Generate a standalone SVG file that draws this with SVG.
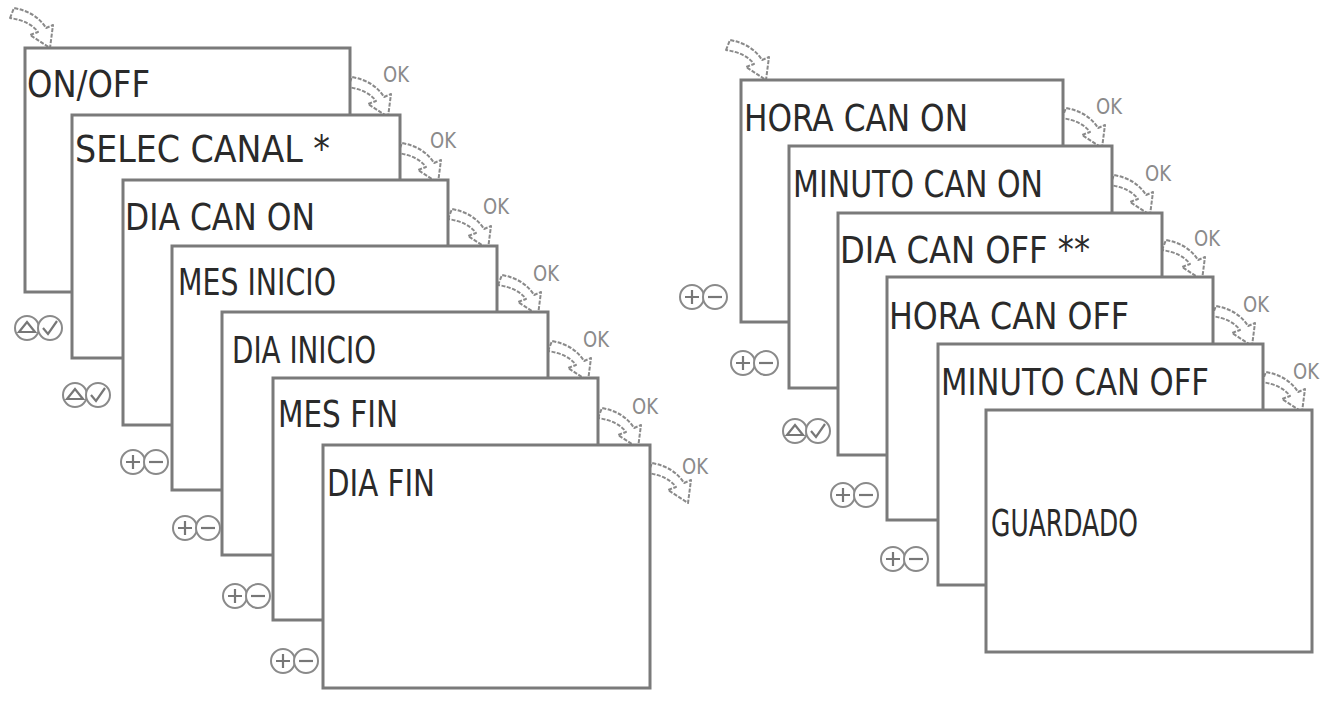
<svg xmlns="http://www.w3.org/2000/svg" width="1328" height="701" viewBox="0 0 1328 701">
<style>
.box{fill:#fff;stroke:#7a7a7a;stroke-width:3}
.t{font-family:"DejaVu Sans Condensed","DejaVu Sans",sans-serif;font-size:38px;fill:#2a2a2a;font-weight:200}
.ok{font-family:"DejaVu Sans Condensed","DejaVu Sans",sans-serif;font-size:22px;fill:#8a8a8a;font-weight:200}
.btn{fill:#fff;stroke:#8a8a8a;stroke-width:2}
.g{fill:none;stroke:#777;stroke-width:2.2}
.arr{fill:#fff;stroke:#8a8a8a;stroke-width:2;stroke-dasharray:4 1.5;stroke-linejoin:round}
</style>
<defs>
<path id="a" class="arr" d="M-42,-30 L-38,-40 Q-16,-36 -6,-20 L1,-23 L-2,0 L-22,-13 L-14,-16 Q-22,-27 -42,-30 Z"/>
<g id="pm"><circle class="btn" cx="0" cy="0" r="12"/><path class="g" d="M-7,0H7M0,-7V7"/><circle class="btn" cx="23" cy="0" r="12"/><path class="g" d="M16,0H30"/></g>
<g id="uc"><circle class="btn" cx="0" cy="0" r="12"/><path class="g" d="M-8,4H8L0,-6Z"/><circle class="btn" cx="23" cy="0" r="12"/><path class="g" d="M16,0L21,6L30,-7"/></g>
</defs>
<g id="connectors">
<use href="#a" x="52" y="48"/>
<use href="#a" x="390" y="117"/>
<use href="#a" x="440" y="183"/>
<use href="#a" x="490" y="249"/>
<use href="#a" x="540" y="315"/>
<use href="#a" x="590" y="381"/>
<use href="#a" x="640" y="448"/>
<use href="#a" x="690" y="503"/>
<use href="#a" x="768" y="80"/>
<use href="#a" x="1104" y="148"/>
<use href="#a" x="1152" y="215"/>
<use href="#a" x="1204" y="280"/>
<use href="#a" x="1254" y="346"/>
<use href="#a" x="1304" y="412"/>
</g>
<g id="left">
<g id="l1"><rect class="box" x="25" y="48" width="325" height="244"/><text class="t" x="27" y="97" textLength="123" lengthAdjust="spacingAndGlyphs">ON/OFF</text></g>
<g id="l2"><rect class="box" x="72" y="115" width="328" height="243"/><text class="t" x="75" y="162" textLength="255" lengthAdjust="spacingAndGlyphs">SELEC CANAL *</text></g>
<g id="l3"><rect class="box" x="123" y="180" width="325" height="245"/><text class="t" x="125" y="230" textLength="190" lengthAdjust="spacingAndGlyphs">DIA CAN ON</text></g>
<g id="l4"><rect class="box" x="172" y="246" width="325" height="244"/><text class="t" x="178" y="295" textLength="158" lengthAdjust="spacingAndGlyphs">MES INICIO</text></g>
<g id="l5"><rect class="box" x="222" y="312" width="326" height="243"/><text class="t" x="232" y="363" textLength="144" lengthAdjust="spacingAndGlyphs">DIA INICIO</text></g>
<g id="l6"><rect class="box" x="273" y="378" width="325" height="242"/><text class="t" x="278" y="427" textLength="120" lengthAdjust="spacingAndGlyphs">MES FIN</text></g>
<g id="l7"><rect class="box" x="323" y="445" width="327" height="243"/><text class="t" x="327" y="496" textLength="108" lengthAdjust="spacingAndGlyphs">DIA FIN</text></g>
<use href="#uc" x="27" y="328"/>
<use href="#uc" x="75" y="395"/>
<use href="#pm" x="133" y="462"/>
<use href="#pm" x="185" y="528"/>
<use href="#pm" x="235" y="596"/>
<use href="#pm" x="283" y="661"/>
<text class="ok" x="383" y="82" textLength="26" lengthAdjust="spacingAndGlyphs">OK</text>
<text class="ok" x="430" y="148" textLength="26" lengthAdjust="spacingAndGlyphs">OK</text>
<text class="ok" x="483" y="214" textLength="26" lengthAdjust="spacingAndGlyphs">OK</text>
<text class="ok" x="533" y="281" textLength="26" lengthAdjust="spacingAndGlyphs">OK</text>
<text class="ok" x="583" y="347" textLength="26" lengthAdjust="spacingAndGlyphs">OK</text>
<text class="ok" x="632" y="414" textLength="26" lengthAdjust="spacingAndGlyphs">OK</text>
<text class="ok" x="682" y="474" textLength="26" lengthAdjust="spacingAndGlyphs">OK</text>
</g>
<g id="right">
<g id="r1"><rect class="box" x="741" y="80" width="322" height="242"/><text class="t" x="744" y="131" textLength="224" lengthAdjust="spacingAndGlyphs">HORA CAN ON</text></g>
<g id="r2"><rect class="box" x="789" y="146" width="323" height="242"/><text class="t" x="793" y="197" textLength="250" lengthAdjust="spacingAndGlyphs">MINUTO CAN ON</text></g>
<g id="r3"><rect class="box" x="838" y="213" width="324" height="242"/><text class="t" x="840" y="263" textLength="250" lengthAdjust="spacingAndGlyphs">DIA CAN OFF **</text></g>
<g id="r4"><rect class="box" x="887" y="277" width="326" height="243"/><text class="t" x="889" y="329" textLength="240" lengthAdjust="spacingAndGlyphs">HORA CAN OFF</text></g>
<g id="r5"><rect class="box" x="938" y="344" width="325" height="241"/><text class="t" x="941" y="395" textLength="268" lengthAdjust="spacingAndGlyphs">MINUTO CAN OFF</text></g>
<g id="r6"><rect class="box" x="986" y="410" width="326" height="242"/><text class="t" x="991" y="536" textLength="147" lengthAdjust="spacingAndGlyphs">GUARDADO</text></g>
<use href="#pm" x="692" y="297"/>
<use href="#pm" x="743" y="363"/>
<use href="#uc" x="795" y="431"/>
<use href="#pm" x="843" y="495"/>
<use href="#pm" x="893" y="559"/>
<text class="ok" x="1096" y="114" textLength="26" lengthAdjust="spacingAndGlyphs">OK</text>
<text class="ok" x="1145" y="181" textLength="26" lengthAdjust="spacingAndGlyphs">OK</text>
<text class="ok" x="1194" y="246" textLength="26" lengthAdjust="spacingAndGlyphs">OK</text>
<text class="ok" x="1243" y="312" textLength="26" lengthAdjust="spacingAndGlyphs">OK</text>
<text class="ok" x="1293" y="379" textLength="26" lengthAdjust="spacingAndGlyphs">OK</text>
</g>
</svg>
